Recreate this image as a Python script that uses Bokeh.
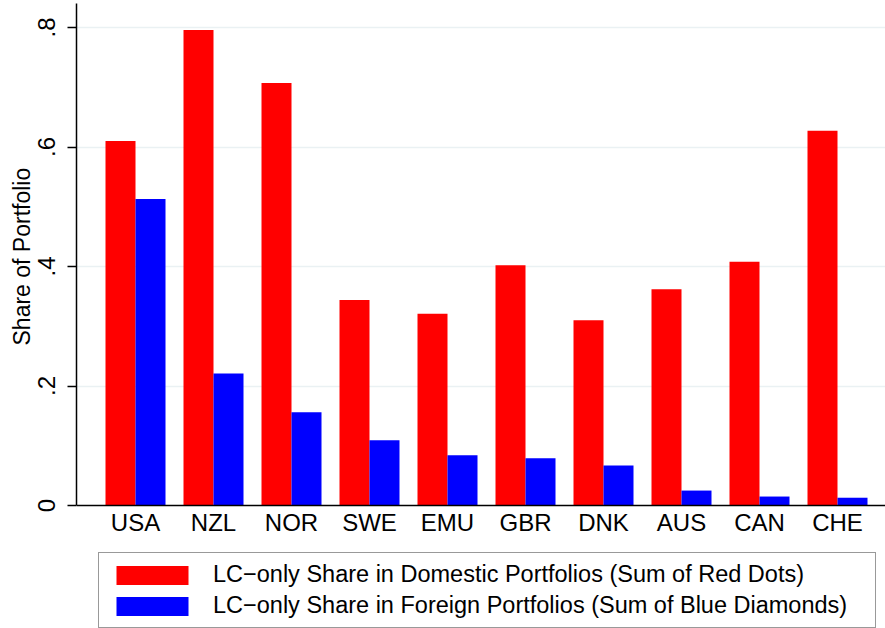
from bokeh.plotting import figure
from bokeh.models import (Range1d, FixedTicker, CustomJSTickFormatter, Legend,
                          LegendItem, ColumnDataSource, Span, Title)
from bokeh.core.properties import value
from bokeh.transform import dodge
from bokeh.embed import file_html
from bokeh.resources import INLINE

countries = ["USA", "NZL", "NOR", "SWE", "EMU", "GBR", "DNK", "AUS", "CAN", "CHE"]
domestic = [0.610, 0.796, 0.707, 0.344, 0.321, 0.402, 0.310, 0.362, 0.408, 0.627]
foreign = [0.513, 0.221, 0.156, 0.109, 0.084, 0.079, 0.067, 0.025, 0.015, 0.013]
y_ticks = [0, 0.2, 0.4, 0.6, 0.8]
y_title = "Share of Portfolio"
label_dom = "LC\u2212only Share in Domestic Portfolios (Sum of Red Dots)"
label_fgn = "LC\u2212only Share in Foreign Portfolios (Sum of Blue Diamonds)"

FONT = "Liberation Sans"
idx = list(range(len(countries)))
bar_w = 30 / 78
PX = 597.5          # pixels per unit of share
Y_TOP = 502 / PX
Y_BOT = -123 / PX

src = ColumnDataSource(dict(pos=idx, dom=domestic, fgn=foreign, name=countries,
                            zero=[0] * len(idx)))

p = figure(frame_width=809, frame_height=625,
           x_range=Range1d(-59 / 78, 750 / 78),
           y_range=Range1d(Y_BOT, Y_TOP),
           output_backend="svg", toolbar_location=None,
           min_border_left=76, min_border_right=0,
           min_border_top=3, min_border_bottom=0)
p.outline_line_color = None
p.background_fill_color = "white"
p.border_fill_color = "white"

# grid
p.xgrid.visible = False
p.ygrid.ticker = FixedTicker(ticks=[t for t in y_ticks if t > 0])
p.ygrid.grid_line_color = "#eaf1f3"
p.ygrid.grid_line_width = 1.5

r_dom = p.vbar(x=dodge("pos", -bar_w / 2, range=p.x_range), top="dom", width=bar_w,
               source=src, fill_color="#ff0000", line_color=None)
r_fgn = p.vbar(x=dodge("pos", bar_w / 2, range=p.x_range), top="fgn", width=bar_w,
               source=src, fill_color="#0000ff", line_color=None)

# x baseline and category labels
p.add_layout(Span(location=0, dimension="width", line_color="black", line_width=1.5))
p.text(x="pos", y="zero", text="name", source=src, y_offset=3,
       text_align="center", text_baseline="top",
       text_font=value(FONT), text_font_size="24px", text_color="black")
p.xaxis.visible = False

# y axis
ya = p.yaxis[0]
ya.bounds = (0, Y_TOP)
ya.ticker = FixedTicker(ticks=y_ticks)
ya.formatter = CustomJSTickFormatter(
    code="return tick == 0 ? '0' : tick.toFixed(1).replace(/^0/, '');")
ya.major_label_orientation = "vertical"
ya.major_tick_out = 9
ya.major_tick_in = 0
ya.minor_tick_line_color = None
ya.major_tick_line_width = 1.5
ya.axis_line_width = 1.5
ya.axis_line_color = "black"
ya.major_label_text_font = FONT
ya.major_label_text_font_size = "24px"
ya.major_label_text_color = "black"
ya.major_label_standoff = 13

# y title, centred on the 0..top part of the axis
p.add_layout(Title(text=y_title, align="left", offset=283, standoff=0,
                   text_font=FONT, text_font_size="23px", text_font_style="normal",
                   text_color="black"), "left")

legend = Legend(items=[LegendItem(label=label_dom, renderers=[r_dom]),
                       LegendItem(label=label_fgn, renderers=[r_fgn])],
                orientation="vertical", location=(22, 0),
                glyph_width=90, glyph_height=24, label_standoff=16,
                label_width=654, label_height=24, spacing=4, padding=8, margin=0,
                border_line_color="#333333", border_line_width=1.2,
                background_fill_color="white", background_fill_alpha=1,
                label_text_font=FONT, label_text_font_size="23.5px",
                label_text_color="black")
p.add_layout(legend, "center")

open("out.html", "w").write(file_html(p, INLINE))
